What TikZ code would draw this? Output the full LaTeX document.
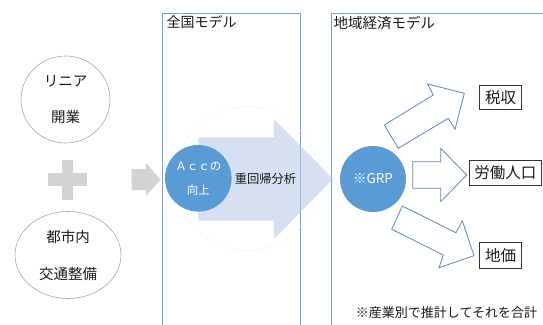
\documentclass[tikz,border=0pt]{standalone}
\usepackage{fontspec}
\setmainfont{Noto Sans CJK JP}
\usetikzlibrary{shapes.geometric}
\definecolor{panelblue}{RGB}{125,160,200}
\definecolor{circblue}{RGB}{91,155,213}
\definecolor{arrowline}{RGB}{95,135,190}
\definecolor{bigarrow}{RGB}{180,199,231}
\definecolor{plusgray}{RGB}{211,211,211}
\definecolor{txt}{RGB}{25,25,25}
\tikzset{
  panel/.style={draw=panelblue, line width=0.8pt},
  outcircle/.style={ellipse, draw=black!35, line width=0.6pt, inner sep=0pt, align=center, text=txt},
  bluecircle/.style={circle, fill=circblue, inner sep=0pt, minimum size=66pt, text=white, align=center},
  blockarrow/.style={draw=arrowline, fill=white, line width=0.8pt, line join=miter},
  resultbox/.style={draw=black!80, line width=0.8pt, inner sep=0pt, text=txt, font=\fontsize{15.5}{15.5}\selectfont},
}
\begin{document}
\begin{tikzpicture}[x=1pt, y=-1pt]
\useasboundingbox (0,0) rectangle (543,324);
% panels
\draw[panel] (162.7,326) |- (300.7,13.3) -- (300.7,326);
\draw[panel] (331.7,326) |- (546,13.3);
\node[anchor=west, inner sep=0pt, text=txt, font=\fontsize{14}{14}\selectfont] (t1) at (166.5,22.5) {全国モデル};
\node[anchor=west, inner sep=0pt, text=txt, font=\fontsize{14.5}{14.5}\selectfont] (t2) at (333.5,22.5) {地域経済モデル};
% left circles
\node[outcircle, minimum width=89pt, minimum height=87pt, font=\fontsize{14.5}{36}\selectfont] (c1) at (65.5,99.5) {リニア\\開業};
\node[outcircle, minimum width=106pt, minimum height=87pt, font=\fontsize{14.5}{37}\selectfont] (c2) at (68,255) {都市内\\交通整備};
% plus sign
\fill[plusgray] (61.7,160) rectangle (73.3,199.5);
\fill[plusgray] (48.3,173.3) rectangle (86.7,186);
% gray arrow
\fill[plusgray] (131.7,169) -- (146,169) -- (146,163) -- (160.5,179.5) -- (146,196) -- (146,190) -- (131.7,190) -- cycle;
% faint ring
\draw[black!4, line width=0.6pt] (247,178.5) circle (72);
% big light arrow
\fill[bigarrow, opacity=0.55] (198.3,137.3) -- (274,137.3) -- (274,119) -- (333,179) -- (274,239) -- (274,220.5) -- (198.3,220.5) -- cycle;
% Acc circle
\node[bluecircle, minimum size=66.6pt] (acc) at (198.3,178.3) {};
\node[text=white, inner sep=0pt, font=\fontsize{11.5}{11.5}\selectfont] (acc1) at (198.3,166.7) {Ａｃｃの};
\node[text=white, inner sep=0pt, font=\fontsize{11.5}{11.5}\selectfont] (acc2) at (198.3,190) {向上};
\node[text=txt, inner sep=0pt, font=\fontsize{12.3}{12.3}\selectfont] (mra) at (265.5,178.5) {重回帰分析};
% GRP circle
\node[bluecircle, minimum size=66pt, font=\fontsize{13.5}{13.5}\selectfont] (grp) at (373,179) {※GRP};
% outline arrows
\draw[blockarrow] (384.3,125) -- (433.3,95) -- (427.7,84) -- (464.3,93.3) -- (455,129.3) -- (448.3,118.3) -- (398.3,148.3) -- cycle;
\draw[blockarrow] (412.7,161.7) -- (440.7,161.7) -- (440.7,148.3) -- (466.7,175) -- (440.7,201.7) -- (440.7,188.3) -- (412.7,188.3) -- cycle;
\draw[blockarrow] (402.3,206) -- (456,232.7) -- (462.3,220.7) -- (474,255.7) -- (439,267.7) -- (443.3,255) -- (391.7,229.3) -- cycle;
% result boxes
\node[resultbox, minimum width=42.4pt, minimum height=24.3pt] (tax) at (500.5,97.2) {税収};
\node[resultbox, minimum width=72.7pt, minimum height=24.3pt] (labor) at (505.3,172.8) {労働人口};
\node[resultbox, minimum width=42.4pt, minimum height=25.6pt] (land) at (500.5,255.5) {地価};
% footnote
\node[text=txt, inner sep=0pt, font=\fontsize{13}{13}\selectfont] (note) at (446.5,313) {※産業別で推計してそれを合計};
\end{tikzpicture}
\end{document}
